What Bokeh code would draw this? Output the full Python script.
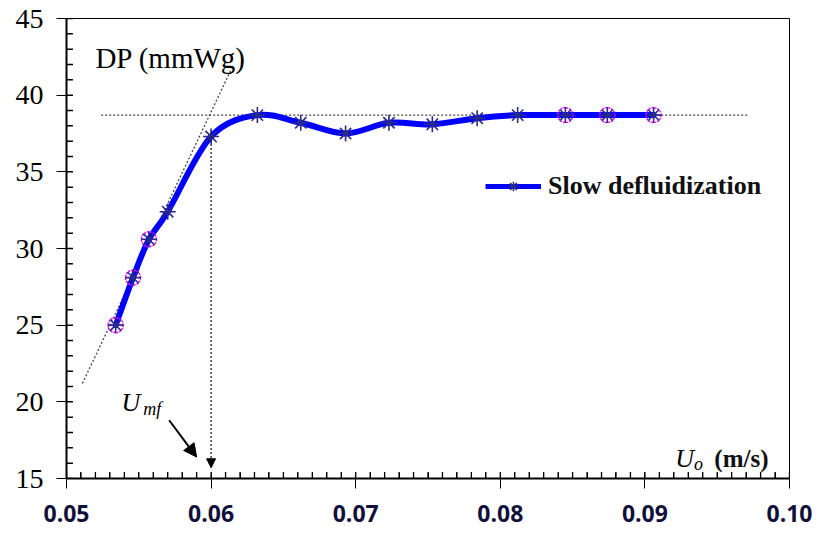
import math
from bokeh.plotting import figure
from bokeh.models import (Range1d, SingleIntervalTicker, NumeralTickFormatter, Label,
                          Arrow, NormalHead, Legend, LegendItem)
from bokeh.embed import file_html
from bokeh.resources import INLINE

# ---- data ----
u0 = [0.0534, 0.0546, 0.0557, 0.0570, 0.0600, 0.0632, 0.0662, 0.0693,
      0.0723, 0.0753, 0.0784, 0.0812, 0.0845, 0.0874, 0.0906]
dp = [25.0, 28.1, 30.6, 32.4, 37.3, 38.7, 38.2, 37.5,
      38.2, 38.1, 38.5, 38.7, 38.7, 38.7, 38.7]
highlight_idx = [0, 1, 2, 12, 13, 14]

tangent_x = [0.0511, 0.0614]
tangent_y = [21.2, 41.7]
plateau_x = [0.0524, 0.0972]
plateau_y = [38.7, 38.7]
umf = 0.060
umf_line_top = 37.6
umf_line_tip = 15.7
pointer_start = (0.0571, 18.8)
pointer_tip = (0.0590, 16.4)

# tick positions (minor ticks every 0.001 on x, every 1 on y)
x_tick_marks = [round(0.05 + i * 0.001, 3) for i in range(51)]
y_tick_marks = list(range(15, 46))

p = figure(width=818, height=534, x_range=Range1d(0.05, 0.10), y_range=Range1d(15, 45),
           output_backend="svg", toolbar_location=None,
           min_border_left=66, min_border_right=29, min_border_top=18, min_border_bottom=56)
p.xgrid.visible = False
p.ygrid.visible = False
p.outline_line_color = "black"

# axes
p.xaxis.ticker = SingleIntervalTicker(interval=0.01, num_minor_ticks=10)
p.yaxis.ticker = SingleIntervalTicker(interval=5, num_minor_ticks=5)
p.xaxis.formatter = NumeralTickFormatter(format="0.00")
p.axis.axis_line_width = 2
p.axis.minor_tick_out = 0
p.axis.minor_tick_in = 6
p.axis.major_tick_in = 6
p.axis.major_tick_out = 10
p.xaxis.major_label_text_font = "Open Sans"
p.xaxis.major_label_text_font_style = "bold"
p.xaxis.major_label_text_font_size = "23px"
p.xaxis.major_label_text_color = "#10103a"
p.xaxis.major_label_standoff = 16
p.yaxis.major_label_text_font = "Liberation Serif"
p.yaxis.major_label_text_font_size = "28px"
p.yaxis.major_label_text_color = "black"
p.yaxis.major_label_standoff = 13

# inward tick marks along both axes (half of each dash falls inside the frame)
p.scatter(x=x_tick_marks, y=[15] * len(x_tick_marks), marker="dash", size=13,
          angle=math.pi / 2, line_color="black", line_width=1.3)
p.scatter(x=[0.05] * len(y_tick_marks), y=y_tick_marks, marker="dash", size=13,
          line_color="black", line_width=1.3)

# dotted construction lines
p.line(tangent_x, tangent_y, line_color="#444444", line_width=1.3, line_dash="2 2")
p.line(plateau_x, plateau_y, line_color="#444444", line_width=1.3, line_dash="2 2")

# smooth curve (Catmull-Rom -> Bezier, computed from the data points)
n = len(u0)
x0, y0, x1, y1, cx0, cy0, cx1, cy1 = [], [], [], [], [], [], [], []
for i in range(n - 1):
    xa, ya = u0[i], dp[i]
    xb, yb = u0[i + 1], dp[i + 1]
    xp, yp = (u0[i - 1], dp[i - 1]) if i > 0 else (xa, ya)
    xn, yn = (u0[i + 2], dp[i + 2]) if i + 2 < n else (xb, yb)
    x0.append(xa); y0.append(ya); x1.append(xb); y1.append(yb)
    cx0.append(xa + (xb - xp) / 6); cy0.append(ya + (yb - yp) / 6)
    cx1.append(xb - (xn - xa) / 6); cy1.append(yb - (yn - ya) / 6)
p.bezier(x0=x0, y0=y0, x1=x1, y1=y1, cx0=cx0, cy0=cy0, cx1=cx1, cy1=cy1,
         line_color="#0000ff", line_width=6, line_cap="round")

hx = [u0[i] for i in highlight_idx]
hy = [dp[i] for i in highlight_idx]
p.scatter(hx, hy, marker="circle", size=15, fill_alpha=0, line_color="#ff00ff",
          line_width=1.5, line_dash="2 1")
stars = p.scatter(u0, dp, marker="asterisk", size=16, line_color="#2a2a8a", line_width=1.6)

# annotation arrows
p.add_layout(Arrow(x_start=umf, y_start=umf_line_top, x_end=umf, y_end=umf_line_tip,
                   line_color="#222222", line_width=1.3, line_dash="2 2",
                   end=NormalHead(size=9, fill_color="black", line_color="black")))
p.add_layout(Arrow(x_start=pointer_start[0], y_start=pointer_start[1],
                   x_end=pointer_tip[0], y_end=pointer_tip[1],
                   line_color="black", line_width=2,
                   end=NormalHead(size=13, fill_color="black", line_color="black")))

# legend (sample line uses a single NaN point so it draws nothing on the plot)
legend_line = p.line(x=[float("nan")], y=[float("nan")], line_color="#0000ff", line_width=5)
legend = Legend(items=[LegendItem(label="Slow defluidization", renderers=[legend_line, stars])],
                location=(419, 277), glyph_width=56, glyph_height=24, label_standoff=7,
                padding=0, margin=0, spacing=0, border_line_color=None, background_fill_color=None,
                label_text_font="Liberation Serif", label_text_font_style="bold",
                label_text_font_size="26px", label_text_color="#111111")
p.add_layout(legend, "center")

# text annotations
p.add_layout(Label(x=0.0520, y=42.4, text="DP (mmWg)", text_font="Liberation Serif",
                   text_font_size="29px", text_color="black", text_baseline="alphabetic"))
p.add_layout(Label(x=0.0538, y=19.95, text="U", text_font="Liberation Serif",
                   text_font_style="italic", text_font_size="26px", text_color="black",
                   text_baseline="alphabetic"))
p.add_layout(Label(x=0.0553, y=19.55, text="mf", text_font="Liberation Serif",
                   text_font_style="italic", text_font_size="18px", text_color="black",
                   text_baseline="alphabetic"))
p.add_layout(Label(x=0.0921, y=16.3, text="U", text_font="Liberation Serif",
                   text_font_style="italic", text_font_size="26px", text_color="black",
                   text_baseline="alphabetic"))
p.add_layout(Label(x=0.0934, y=15.95, text="o", text_font="Liberation Serif",
                   text_font_style="italic", text_font_size="18px", text_color="black",
                   text_baseline="alphabetic"))
p.add_layout(Label(x=0.0948, y=16.3, text="(m/s)", text_font="Liberation Serif",
                   text_font_style="bold", text_font_size="25px", text_color="#111111",
                   text_baseline="alphabetic"))

open("out.html", "w").write(file_html(p, INLINE))
